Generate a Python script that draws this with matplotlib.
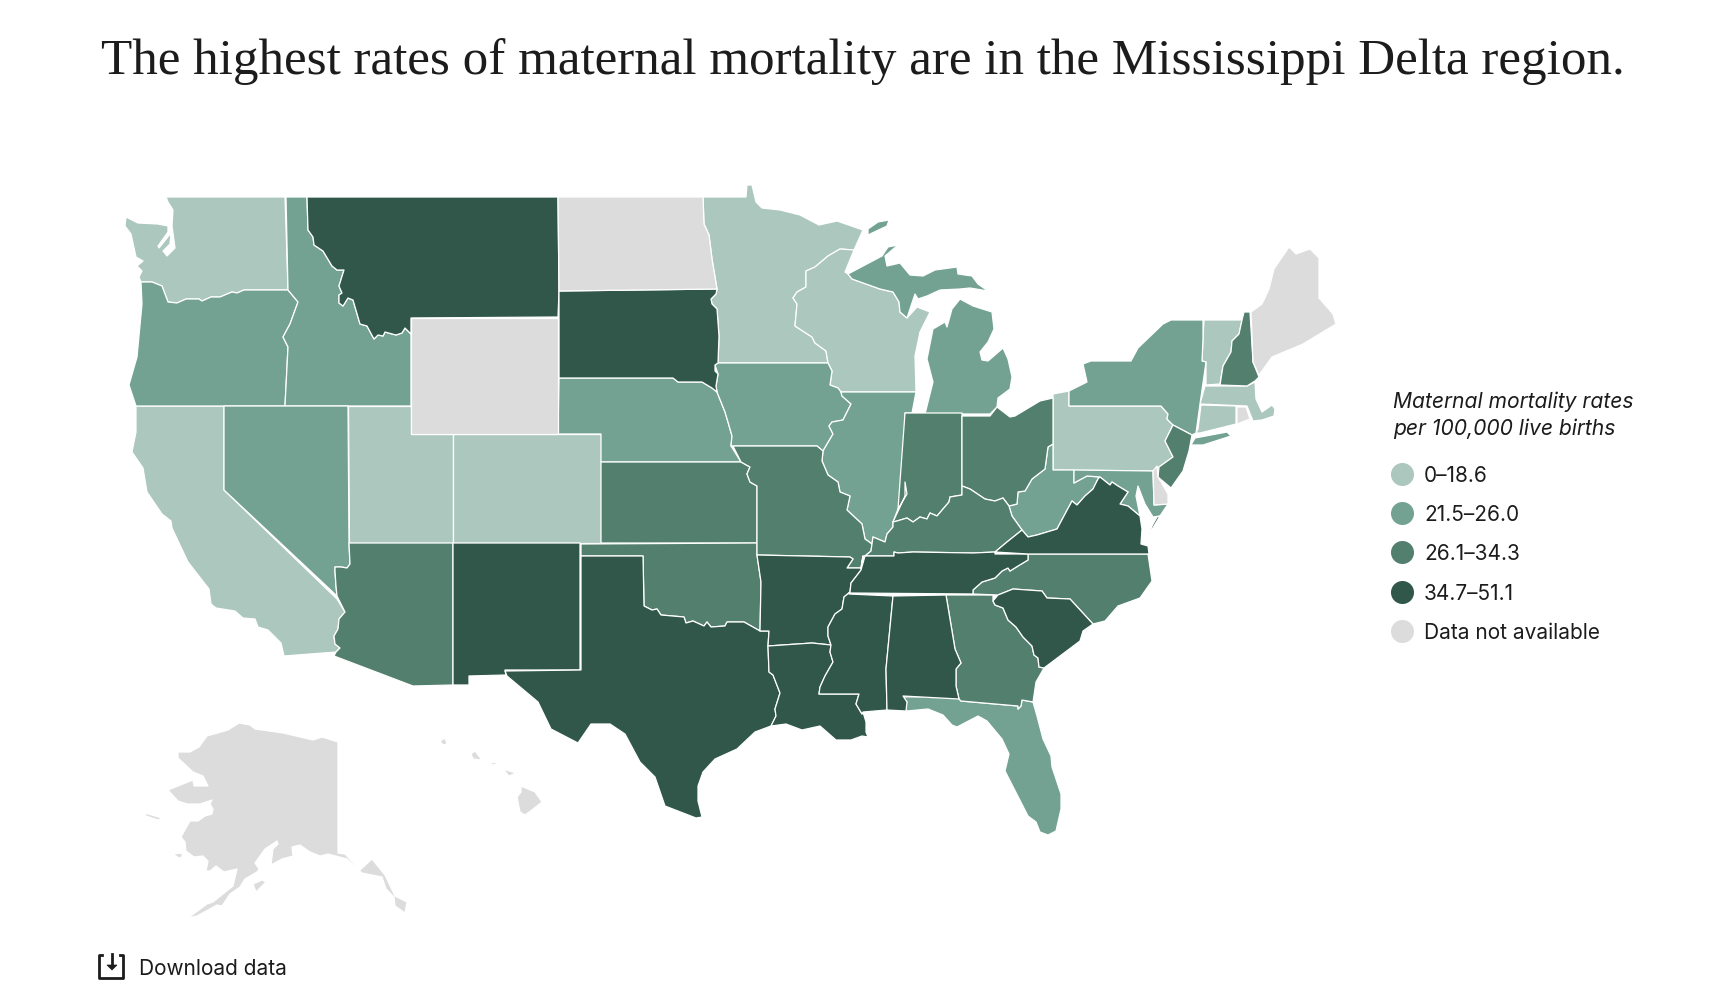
import matplotlib
matplotlib.use("Agg")
import matplotlib.pyplot as plt
from matplotlib.patches import Polygon

TITLE = "The highest rates of maternal mortality are in the Mississippi Delta region."
LEGEND_TITLE = ["Maternal mortality rates", "per 100,000 live births"]
BIN_LABELS = ["0–18.6", "21.5–26.0", "26.1–34.3", "34.7–51.1", "Data not available"]
BIN_COLORS = ["#ACC7BD", "#73A293", "#537F6E", "#305749", "#DCDCDC"]

STATE_BINS = {
    0: ["WA", "CA", "UT", "CO", "MN", "WI", "PA", "VT", "MA", "CT"],
    1: ["OR", "ID", "NV", "NE", "IA", "IL", "MI", "MI_UP", "MI_ISLE", "NY", "NY_LI", "WV", "MD", "FL"],
    2: ["AZ", "KS", "OK", "MO", "IN", "OH", "KY", "GA", "NC", "NJ", "NH"],
    3: ["MT", "SD", "NM", "TX", "AR", "LA", "MS", "AL", "TN", "SC", "VA", "VA_ES"],
    4: ["WY", "ND", "ME", "RI", "DE", "AK", "AK_1", "AK_2", "AK_3", "HI_1", "HI_2", "HI_3", "HI_4", "HI_5"],
}

WA_OR = [(288,291),(244,291),(237,294),(232,293),(220,298),(211,298),(202,302),(199,300),(186,300),(177,304),(168,303),(162,287),(152,283),(141,283)]
OR_ID = [(288,291),(298,303),(290,325),(283,338),(288,348),(285,407)]
ID_MT = [(307,198),(308,231),(313,238),(314,246),(323,252),(332,267),(337,271),(344,271),(339,287),(342,294),(339,296),(339,304),(343,307),(348,299),(353,301),(360,325),(367,327),(374,340),(378,336),(383,337),(385,333),(396,336),(402,334),(405,329),(411,335)]
CA_NVAZ = [(337,600),(345,613),(339,620),(338,630),(334,637),(335,645),(340,649),(336,653)]
NV_AZ = [(349,544),(350,565),(347,569),(341,568),(335,568),(335,572),(336,587),(337,597)]
SD_NE = [(559,379),(673,379),(678,383),(687,383),(702,383),(712,389),(717,393)]
MN_SD = [(717,290),(716,295),(711,300),(712,305),(717,310),(719,337),(718,364)]
IA_SD = [(718,364),(715,366),(715,372),(718,375),(716,387),(717,393)]
NE_IA = [(717,393),(725,413),(728,423),(732,437),(731,447)]
MN_ND = [(703,198),(704,225),(709,236),(712,260),(717,290)]
MN_WI = [(840,250),(828,257),(815,268),(806,272),(806,288),(797,293),(793,299),(797,305),(795,327),(812,338),(815,344),(826,352),(828,364)]
WI_IA = [(828,364),(832,372),(830,386),(838,389),(841,393)]
IA_IL = [(841,393),(842,397),(851,405),(843,421),(832,423),(829,427),(833,435),(823,452)]
IA_MO = [(823,452),(817,447),(731,447)]
WI_UP = [(848,275),(852,280),(880,290),(893,293),(899,303),(900,313),(907,319)]
KS_MO = [(741,463),(750,468),(747,475),(750,483),(757,487),(757,544)]
IL_MO = [(823,452),(822,462),(828,476),(838,483),(840,493),(850,497),(847,511),(862,525),(865,540),(872,545)]
IL_KY = [(872,545),(873,538),(885,543),(887,535),(893,528),(893,523)]
IN_KY = [(893,523),(897,522),(907,519),(913,523),(920,518),(927,520),(930,514),(937,517),(949,503),(950,498),(962,496)]
OH_KY = [(962,487),(970,490),(985,500),(995,502),(1003,499),(1009,507)]
KY_WV = [(1009,507),(1012,517),(1022,531)]
KY_VA = [(1022,531),(1007,543),(995,553)]
KY_TN = [(995,553),(973,554),(913,553),(898,554),(894,553),(894,557),(865,557)]
MO_KY = [(872,545),(871,552),(865,557)]
MO_AR = [(863,557),(861,569),(847,569),(853,560),(850,558),(757,556)]
OK_TX = [(643,557),(644,607),(652,611),(657,610),(661,616),(684,618),(686,624),(693,622),(704,627),(707,623),(711,628),(725,627),(727,623),(744,623),(760,632),(769,632)]
AR_MS = [(850,593),(844,598),(842,610),(835,615),(828,628),(828,637),(831,646)]
AR_TN = [(861,571),(858,575),(851,584),(850,593)]
LA_TX = [(768,647),(769,673),(773,676),(780,694),(775,710),(776,717),(771,727)]
LA_MS = [(831,646),(830,653),(833,663),(825,677),(820,688),(819,695),(859,695),(856,705),(862,715),(863,713)]
AL_GA = [(946,596),(955,650),(961,664),(956,670),(956,687),(959,700)]
GA_SC = [(993,596),(993,602),(995,606),(1003,609),(1008,621),(1016,628),(1023,638),(1032,647),(1034,656),(1038,659),(1039,668),(1044,669)]
GA_FL = [(959,700),(961,702),(1018,707),(1018,710),(1021,707),(1022,701),(1033,703)]
NC_SC = [(998,596),(1013,590),(1042,592),(1047,599),(1070,600),(1093,625)]
TN_NC = [(973,595),(973,591),(982,583),(995,579),(1002,572),(1008,569),(1010,572),(1018,567),(1028,561),(1028,555)]
OH_WV = [(1053,445),(1048,448),(1045,470),(1032,480),(1025,492),(1018,493),(1017,505),(1009,507)]
WV_VA = [(1022,531),(1028,538),(1037,536),(1057,530),(1072,502),(1077,506),(1085,497),(1093,490),(1098,480),(1100,478)]
MI_WI_OUT = [(907,319),(917,308),(930,313),(920,333),(915,357),(916,393)]
NY_PA = [(1069,392),(1069,407),(1161,407),(1168,415),(1167,420),(1173,426)]
PA_NJ = [(1173,427),(1165,442),(1173,458),(1159,468),(1153,472)]
VT_NH = [(1242,321),(1239,335),(1232,342),(1231,353),(1223,367),(1220,385)]
NY_VT = [(1203,321),(1203,340),(1202,362),(1206,363)]

WA = WA_OR + [(139,278),(142,272),(137,267),(143,262),(136,258),(131,235),(125,227),(126,218),(138,224),(158,225),(168,227),(168,233),(158,247),(159,249),(171,234),(170,245),(163,252),(167,257),(175,249),(172,227),(173,211),(168,203),(166,198),(285,198)]
OR = WA_OR[::-1] + OR_ID[1:] + [(136,407),(129,386),(137,358),(142,305)]
ID = [(286,198)] + ID_MT + [(411,407),(285,407)] + OR_ID[::-1][1:]
MT = ID_MT + [(411,319),(558,318),(559,292),(558,198)]
WY = [(411,319),(558,319),(558,435),(411,435)]
ND = [(558,198)] + MN_ND + [(559,292)]
SD = [(559,292)] + MN_SD + IA_SD[1:] + SD_NE[::-1][1:]
NE = SD_NE + NE_IA[1:] + [(741,463),(601,463),(601,435),(558,435)]
CO = [(453,435),(601,435),(601,544),(453,544)]
UT = [(348,407),(411,407),(411,435),(453,435),(453,544),(349,544)]
NV = [(224,407),(348,407)] + NV_AZ + [(224,491)]
CA = [(136,407),(224,407),(224,491)] + CA_NVAZ + [(284,657),(281,644),(268,631),(258,628),(255,620),(243,619),(235,612),(216,609),(211,605),(209,590),(188,563),(172,529),(171,522),(162,515),(147,493),(143,469),(132,453),(136,433)]
AZ = NV_AZ + CA_NVAZ[1:] + [(334,657),(413,687),(453,686),(453,544)]
NM = [(453,544),(580,544),(580,671),(505,671),(506,676),(469,677),(469,686),(453,686)]
TX = [(581,557)] + OK_TX + [(768,647)] + LA_TX[1:] + [(755,733),(737,750),(715,760),(703,773),(698,787),(698,802),(702,818),(696,819),(665,807),(655,778),(640,763),(625,735),(610,725),(591,725),(578,744),(551,730),(538,703),(507,677),(505,672),(581,671)]
OK = [(581,545),(757,544),(757,556),(761,583)] + OK_TX[::-1][1:] + [(581,557)]
KS = [(601,463)] + KS_MO + [(601,544)]
MO = [(733,447)] + IA_MO[::-1][1:] + IL_MO[1:] + MO_KY[1:] + MO_AR + KS_MO[::-1]
AR = MO_AR[::-1] + AR_TN + AR_MS[1:] + [(812,644),(768,647),(769,632),(760,632),(761,583)]
LA = [(768,647),(812,644)] + LA_MS + [(866,723),(866,733),(868,738),(862,737),(851,741),(836,741),(820,727),(802,731),(786,725)] + LA_TX[::-1]
MS = [(849,595),(893,597),(886,670),(887,711),(863,713)] + LA_MS[::-1][1:] + AR_MS[::-1][1:]
AL = [(893,597),(946,596)] + AL_GA + [(903,697),(907,703),(906,712),(887,711),(886,670)]
GA = [(946,596),(993,596)] + GA_SC + [(1036,683),(1033,703)] + GA_FL[::-1][1:] + AL_GA[::-1][1:]
FL = [(903,698),(958,697)] + GA_FL + [(1037,717),(1043,740),(1051,757),(1052,768),(1061,795),(1061,810),(1056,832),(1048,836),(1040,833),(1036,823),(1028,817),(1005,772),(1009,755),(1002,740),(987,722),(978,717),(957,728),(952,726),(943,716),(928,710),(907,712),(905,707),(907,703)]
SC = [(993,602),(998,596)] + NC_SC[1:] + [(1083,632),(1080,642),(1044,669)] + GA_SC[::-1][1:-1]
NC = [(1028,555),(1148,555),(1152,582),(1140,599),(1118,607),(1105,622)] + NC_SC[::-1] + TN_NC
TN = KY_TN + AR_TN + [(850,594),(973,595)] + TN_NC[1:] + [(995,555)]
KY = IL_KY + IN_KY[1:] + OH_KY + KY_WV[1:] + KY_VA[1:] + KY_TN[1:] + [(871,552)]
IN = [(905,414),(962,414),(962,496)] + IN_KY[::-1][1:] + [(905,497),(905,483),(907,495),(898,510)]
IL = [(841,393),(916,393),(912,414),(905,414),(905,483),(907,495),(898,510)] + IL_KY[::-1] + IL_MO[::-1][1:] + IA_IL[::-1][:-1]
IA = [(715,366),(718,364),(828,364)] + WI_IA[1:] + IA_IL[1:] + IA_MO[1:] + NE_IA[::-1][1:] + IA_SD[::-1][:-3]
MN = [(703,198),(746,198),(747,186),(752,186),(756,203),(762,209),(780,211),(800,216),(819,226),(837,222),(863,231),(854,251)] + MN_WI + MN_SD[::-1] + MN_ND[::-1][1:]
WI = [(840,250),(854,251),(845,273)] + WI_UP + MI_WI_OUT[1:] + WI_IA[::-1] + MN_WI[::-1]
MI_UP = [(848,275),(882,257),(888,248),(898,246),(885,257),(887,267),(900,264),(910,276),(923,277),(935,271),(957,268),(958,275),(972,277),(978,285),(988,292),(970,289),(960,290),(940,291),(927,297),(918,300),(915,295),(907,319)] + WI_UP[::-1][1:]
MI_ISLE = [(868,230),(878,223),(889,221),(887,227),(868,236)]
MI = [(925,415),(933,383),(927,360),(933,330),(945,323),(947,328),(952,310),(960,300),(973,307),(992,313),(994,330),(988,343),(980,353),(982,361),(988,362),(1003,349),(1008,360),(1012,378),(1010,390),(998,399),(997,408),(990,415)]
OH = [(962,417),(990,417),(997,408),(1010,418),(1015,417),(1040,402),(1053,399)] + OH_WV + OH_KY[::-1][1:]
PA = [(1053,395)] + NY_PA + PA_NJ[1:] + [(1053,471)]
NY = [(1069,407),(1069,392),(1087,383),(1083,365),(1091,362),(1131,362),(1138,349),(1163,325),(1171,321),(1203,321)] + NY_VT[1:] + [(1200,405),(1196,434),(1192,436)] + NY_PA[::-1][:-2] + [(1161,407)]
NY_LI = [(1191,446),(1195,439),(1227,433),(1231,437),(1203,446)]
NJ = [(1173,426),(1192,436),(1189,452),(1183,472),(1171,489),(1158,478)] + PA_NJ[::-1][1:-1]
VT = [(1204,321),(1242,321)] + VT_NH[1:] + [(1206,386),(1206,363),(1202,362),(1203,340)]
NH = [(1244,313),(1250,313),(1253,363),(1259,378),(1255,382),(1247,387),(1220,386)] + VT_NH[::-1][1:]
ME = [(1251,313),(1262,305),(1269,290),(1274,270),(1289,248),(1296,255),(1310,250),(1319,259),(1319,299),(1333,315),(1336,325),(1303,345),(1272,358),(1259,376),(1253,363)]
MA = [(1205,387),(1247,387),(1255,383),(1256,400),(1262,413),(1272,406),(1275,410),(1274,417),(1262,421),(1253,422),(1247,407),(1200,405)]
CT = [(1201,406),(1236,407),(1236,425),(1200,434),(1196,434),(1198,430)]
RI = [(1237,408),(1246,408),(1250,420),(1237,425)]
DE = [(1153,472),(1157,467),(1158,478),(1168,495),(1168,505),(1154,506)]
MD = [(1074,471),(1153,472),(1154,506),(1168,505),(1160,517),(1153,518),(1145,505),(1138,487),(1136,497),(1140,517),(1128,507),(1120,505),(1128,493),(1118,487),(1112,483),(1110,486),(1100,478),(1087,477),(1074,484)]
WV = [(1053,445),(1053,471),(1074,471),(1074,484),(1087,477),(1100,478)] + WV_VA[::-1][1:] + KY_WV[::-1][1:] + OH_WV[::-1][:-1]
VA = [(995,553),(1007,543)] + WV_VA + [(1110,486),(1112,483),(1118,487),(1128,493),(1120,505),(1128,507),(1140,517),(1142,530),(1141,545),(1148,547),(1149,555),(1028,555)]
VA_ES = [(1160,517),(1148,537),(1152,527),(1157,518)]
AK = [(338,743),(322,738),(313,741),(283,734),(255,730),(250,726),(239,724),(228,731),(207,737),(199,748),(190,753),(178,753),(178,759),(193,773),(203,777),(208,787),(194,787),(193,781),(168,791),(178,802),(187,805),(200,805),(212,801),(210,805),(213,810),(212,815),(205,817),(198,822),(190,822),(181,838),(185,843),(186,852),(194,858),(203,857),(208,862),(206,872),(210,872),(216,867),(224,873),(237,870),(233,887),(213,903),(207,905),(188,919),(197,917),(217,906),(222,907),(230,895),(240,888),(245,880),(257,873),(259,870),(255,864),(265,850),(277,842),(278,845),(273,850),(271,866),(282,860),(293,857),(292,848),(300,846),(310,853),(320,857),(328,855),(347,860),(362,874),(382,878),(386,890),(394,898),(395,907),(405,914),(407,903),(395,897),(385,876),(372,860),(360,871),(345,855),(338,854)]
AK_1 = [(145,814),(155,817),(162,819),(158,821),(146,817)]
AK_2 = [(173,855),(182,854),(182,858),(179,859)]
AK_3 = [(253,885),(262,881),(266,883),(256,893)]
HI_1 = [(521,787),(535,793),(542,803),(532,811),(525,816),(520,813),(517,798),(521,793)]
HI_2 = [(503,770),(516,774),(509,777)]
HI_3 = [(491,763),(501,765),(492,766)]
HI_4 = [(475,752),(482,761),(473,760),(471,755)]
HI_5 = [(440,742),(445,739),(447,745),(443,746)]

OUTLINES = dict(WA=WA, OR=OR, ID=ID, MT=MT, WY=WY, ND=ND, SD=SD, NE=NE, CO=CO, UT=UT, NV=NV, CA=CA, AZ=AZ, NM=NM,
                TX=TX, OK=OK, KS=KS, MO=MO, AR=AR, LA=LA, MS=MS, AL=AL, GA=GA, FL=FL, SC=SC, NC=NC, TN=TN, KY=KY,
                IN=IN, IL=IL, IA=IA, MN=MN, WI=WI, MI=MI, MI_UP=MI_UP, MI_ISLE=MI_ISLE, OH=OH, PA=PA, NY=NY, NY_LI=NY_LI,
                NJ=NJ, VT=VT, NH=NH, ME=ME, MA=MA, CT=CT, RI=RI, DE=DE, MD=MD, WV=WV, VA=VA, VA_ES=VA_ES,
                AK=AK, AK_1=AK_1, AK_2=AK_2, AK_3=AK_3, HI_1=HI_1, HI_2=HI_2, HI_3=HI_3, HI_4=HI_4, HI_5=HI_5)

INK = "#1C1C1C"
fig = plt.figure(figsize=(17.24, 10.04), dpi=100)
ax = fig.add_axes([0, 0, 1, 1])
ax.set_xlim(0, 1724)
ax.set_ylim(1004, 0)
ax.axis("off")

for idx, names in STATE_BINS.items():
    for name in names:
        ax.add_patch(Polygon(OUTLINES[name], closed=True, facecolor=BIN_COLORS[idx],
                             edgecolor="white", linewidth=0.9, joinstyle="round", zorder=2))

ax.text(101, 74, TITLE, family="Liberation Serif", fontsize=36.8, color=INK, va="baseline", ha="left")

ax.text(1393, 408, LEGEND_TITLE[0], family="Inter", style="italic", fontsize=15.2, color=INK, va="baseline", ha="left")
ax.text(1393, 435, LEGEND_TITLE[1], family="Inter", style="italic", fontsize=15.2, color=INK, va="baseline", ha="left")
for i, (lab, col) in enumerate(zip(BIN_LABELS, BIN_COLORS)):
    y = 475 + i * 39.2
    ax.scatter([1402], [y], s=275, color=col, linewidths=0, zorder=3)
    ax.text(1424, y + 7, lab, family="Inter", fontsize=15, color=INK, va="baseline", ha="left")

# download icon
ax.plot([102, 99, 99, 123, 123, 120], [956, 956, 979, 979, 956, 956], color=INK, lw=2, solid_joinstyle="round")
ax.plot([112, 112], [955, 967], color=INK, lw=2)
ax.add_patch(Polygon([(107, 966), (117, 966), (112, 971)], closed=True, facecolor=INK, edgecolor=INK, lw=0.5))
ax.text(139, 975, "Download data", family="Inter", fontsize=15, color=INK, va="baseline", ha="left")

fig.savefig("out.png", dpi=100)
